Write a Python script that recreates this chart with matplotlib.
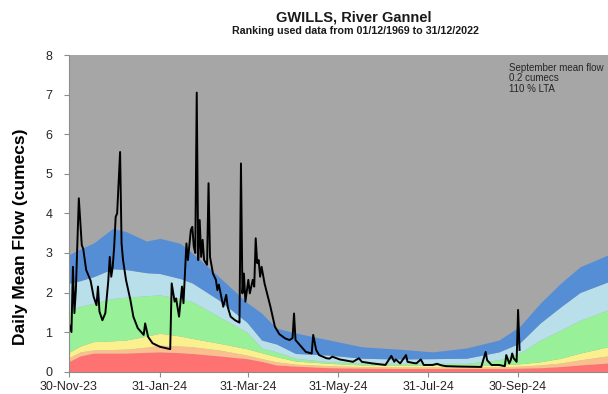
import pandas as pd
import matplotlib.pyplot as plt
import matplotlib.dates as mdates

plt.rcParams['font.family'] = ['Liberation Sans', 'DejaVu Sans']

# Percentile band tops (cumecs) through the water year
band_dates = ['2023-11-30', '2023-12-08', '2023-12-17', '2023-12-30', '2024-01-08',
              '2024-01-22', '2024-01-31', '2024-02-14', '2024-02-22', '2024-03-11',
              '2024-03-30', '2024-04-09', '2024-04-19', '2024-05-02', '2024-05-25',
              '2024-06-16', '2024-07-11', '2024-08-03', '2024-08-26', '2024-09-17',
              '2024-10-01', '2024-10-15', '2024-10-29', '2024-11-11', '2024-11-30']
red_top = [0.25, 0.40, 0.47, 0.47, 0.47, 0.49, 0.50, 0.48, 0.46, 0.40, 0.33, 0.26, 0.17,
           0.14, 0.10, 0.09, 0.08, 0.08, 0.08, 0.08, 0.09, 0.10, 0.13, 0.17, 0.22]
orange_top = [0.35, 0.50, 0.55, 0.56, 0.57, 0.62, 0.67, 0.65, 0.63, 0.55, 0.42, 0.33, 0.25,
              0.19, 0.15, 0.13, 0.12, 0.12, 0.12, 0.12, 0.14, 0.17, 0.22, 0.30, 0.40]
yellow_top = [0.48, 0.65, 0.76, 0.78, 0.80, 0.90, 0.97, 0.90, 0.84, 0.72, 0.58, 0.48, 0.38,
              0.27, 0.21, 0.17, 0.17, 0.17, 0.17, 0.17, 0.20, 0.25, 0.34, 0.47, 0.63]
green_top = [1.56, 1.65, 1.73, 1.85, 1.88, 1.92, 1.94, 1.85, 1.77, 1.39, 1.00, 0.60, 0.50,
             0.34, 0.25, 0.22, 0.21, 0.21, 0.21, 0.30, 0.47, 0.80, 1.05, 1.30, 1.56]
lightblue_top = [2.23, 2.30, 2.40, 2.60, 2.58, 2.50, 2.48, 2.35, 2.24, 1.81, 1.25, 0.80, 0.70,
                 0.46, 0.42, 0.34, 0.32, 0.33, 0.34, 0.50, 0.72, 1.23, 1.64, 2.00, 2.27]
blue_top = [2.95, 3.10, 3.25, 3.62, 3.54, 3.30, 3.37, 3.24, 3.00, 2.40, 1.75, 1.48, 1.10,
            0.98, 0.80, 0.63, 0.57, 0.50, 0.60, 0.80, 1.14, 1.73, 2.24, 2.65, 2.95]

# Daily mean flow, 2023/24
flow_dates = ['2023-11-30', '2023-12-02', '2023-12-03', '2023-12-04', '2023-12-05', '2023-12-07',
              '2023-12-09', '2023-12-10', '2023-12-12', '2023-12-15', '2023-12-17', '2023-12-19',
              '2023-12-20', '2023-12-21', '2023-12-23', '2023-12-25', '2023-12-27', '2023-12-28',
              '2023-12-29', '2023-12-30', '2023-12-31', '2024-01-01', '2024-01-02', '2024-01-04',
              '2024-01-05', '2024-01-06', '2024-01-08', '2024-01-11', '2024-01-13', '2024-01-16',
              '2024-01-20', '2024-01-21', '2024-01-23', '2024-01-26', '2024-01-31', '2024-02-07',
              '2024-02-08', '2024-02-10', '2024-02-11', '2024-02-13', '2024-02-15', '2024-02-16',
              '2024-02-18', '2024-02-19', '2024-02-21', '2024-02-22', '2024-02-23', '2024-02-24',
              '2024-02-25', '2024-02-26', '2024-02-27', '2024-02-28', '2024-02-29', '2024-03-01',
              '2024-03-03', '2024-03-04', '2024-03-05', '2024-03-07', '2024-03-09', '2024-03-10',
              '2024-03-11', '2024-03-14', '2024-03-16', '2024-03-17', '2024-03-19', '2024-03-22',
              '2024-03-25', '2024-03-26', '2024-03-27', '2024-03-28', '2024-03-29', '2024-03-31',
              '2024-04-01', '2024-04-03', '2024-04-04', '2024-04-05', '2024-04-06', '2024-04-07',
              '2024-04-08', '2024-04-09', '2024-04-11', '2024-04-15', '2024-04-18', '2024-04-21',
              '2024-04-25', '2024-04-28', '2024-04-30', '2024-05-01', '2024-05-02', '2024-05-05',
              '2024-05-09', '2024-05-13', '2024-05-14', '2024-05-16', '2024-05-18', '2024-05-23',
              '2024-05-25', '2024-05-27', '2024-06-01', '2024-06-10', '2024-06-14', '2024-06-16',
              '2024-06-23', '2024-07-02', '2024-07-06', '2024-07-08', '2024-07-09', '2024-07-12',
              '2024-07-16', '2024-07-17', '2024-07-21', '2024-07-23', '2024-07-26', '2024-07-28',
              '2024-08-03', '2024-08-06', '2024-08-09', '2024-08-12', '2024-08-21', '2024-09-05',
              '2024-09-06', '2024-09-08', '2024-09-09', '2024-09-12', '2024-09-17', '2024-09-21',
              '2024-09-22', '2024-09-24', '2024-09-25', '2024-09-26', '2024-09-27', '2024-09-29',
              '2024-09-30', '2024-10-01']
flow = [1.26, 1.00, 2.65, 1.48, 2.06, 4.38,
        3.20, 3.10, 2.57, 2.30, 1.90, 1.68,
        2.15, 1.52, 1.30, 1.48, 2.30, 2.90,
        2.40, 2.65, 3.16, 3.91, 4.00, 5.55,
        3.24, 2.82, 2.32, 1.81, 1.39, 1.10,
        0.93, 1.22, 0.88, 0.72, 0.63, 0.57,
        2.23, 1.77, 1.85, 1.39, 2.15, 1.73,
        3.24, 2.82, 3.58, 3.66, 3.16, 3.00,
        7.05, 2.82, 3.83, 2.90, 3.33, 2.82,
        2.70, 4.76, 2.90, 2.48, 2.32, 2.06,
        2.20, 1.64, 1.94, 1.64, 1.39, 1.30,
        1.24, 5.26, 1.98, 2.48, 1.77, 2.32,
        1.98, 2.32, 2.15, 3.37, 2.74, 2.82,
        2.40, 2.65, 2.23, 1.64, 1.14, 0.95,
        0.84, 0.80, 0.85, 1.47, 0.80, 0.67,
        0.50, 0.46, 0.93, 0.55, 0.42, 0.34,
        0.33, 0.38, 0.31, 0.25, 0.34, 0.25,
        0.21, 0.17, 0.40, 0.25, 0.31, 0.21,
        0.42, 0.25, 0.22, 0.21, 0.31, 0.17,
        0.17, 0.20, 0.16, 0.14, 0.13, 0.12,
        0.25, 0.50, 0.29, 0.17, 0.17, 0.14,
        0.42, 0.21, 0.29, 0.46, 0.34, 0.25,
        1.56, 0.55]

band_colors = ['#FF7272', '#FBBE8E', '#FAF08E', '#98F098', '#B8DFEA', '#568ED6']
gray = '#A6A6A6'

bd = pd.to_datetime(band_dates)
fd = pd.to_datetime(flow_dates)

fig = plt.figure(figsize=(6.08, 3.94), dpi=100)
ax = fig.add_axes([68.5 / 608, 22.3 / 394, 539.5 / 608, 316.7 / 394])
ax.set_facecolor(gray)

# stacked percentile bands
tops = [red_top, orange_top, yellow_top, green_top, lightblue_top, blue_top]
lower = [0] * len(band_dates)
for top, col in zip(tops, band_colors):
    ax.fill_between(bd, lower, top, color=col, linewidth=0)
    lower = top

ax.plot(fd, flow, color='black', linewidth=1.4)

ax.set_xlim(pd.Timestamp('2023-11-30'), pd.Timestamp('2024-11-30'))
ax.set_ylim(0, 8)
ax.set_yticks(range(0, 9))

tick_dates = pd.to_datetime(['2023-11-30', '2024-01-31', '2024-03-31',
                             '2024-05-31', '2024-07-31', '2024-09-30'])
ax.set_xticks(tick_dates)
ax.xaxis.set_major_formatter(mdates.DateFormatter('%d-%b-%y'))

for side in ['top', 'right']:
    ax.spines[side].set_visible(False)
for side in ['left', 'bottom']:
    ax.spines[side].set_color('#8C8C8C')
    ax.spines[side].set_linewidth(0.8)
ax.tick_params(axis='both', direction='out', length=3.5, width=0.8, color='#8C8C8C',
               labelsize=9, labelcolor='#262626')
ax.tick_params(axis='y', pad=8)

# axis title sits a little below the middle of the axis
ax.set_ylabel('Daily Mean Flow (cumecs)', fontsize=12.5, fontweight='bold')
ax.yaxis.set_label_coords(-0.075, 0.425)

fig.text(0.582, 1 - 17 / 394, 'GWILLS, River Gannel', ha='center', va='center',
         fontsize=10.5, fontweight='bold', color='#1A1A1A')
fig.text(0.584, 1 - 31 / 394, 'Ranking used data from 01/12/1969 to 31/12/2022',
         ha='center', va='center', fontsize=7.7, fontweight='bold', color='#1A1A1A')

ax.text(0.817, 0.975, 'September mean flow\n0.2 cumecs\n110 % LTA', transform=ax.transAxes,
        ha='left', va='top', fontsize=7, color='#262626', linespacing=1.05)

fig.savefig('out.png', dpi=100)
